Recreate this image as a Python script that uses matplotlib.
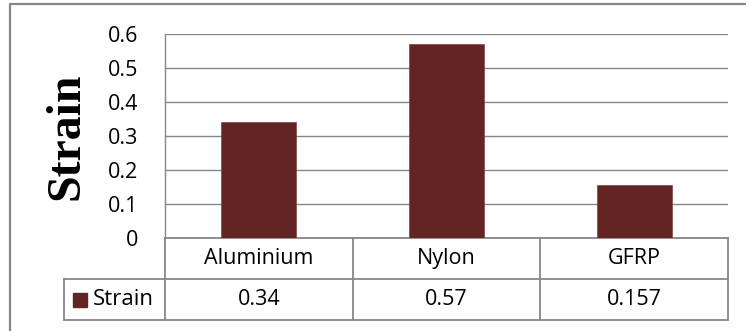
import matplotlib
matplotlib.use("Agg")
import matplotlib.pyplot as plt
from matplotlib.lines import Line2D
from matplotlib.transforms import blended_transform_factory

# Data
materials = ["Aluminium", "Nylon", "GFRP"]
strain = [0.34, 0.57, 0.157]
strain_labels = ["0.34", "0.57", "0.157"]
series_name = "Strain"
y_ticks = [0, 0.1, 0.2, 0.3, 0.4, 0.5, 0.6]
y_tick_labels = ["0", "0.1", "0.2", "0.3", "0.4", "0.5", "0.6"]

BAR = "#632424"
GRID = "#878787"
FONT = "Open Sans"
FS = 15.5
W, H = 746, 331

fig = plt.figure(figsize=(W / 100, H / 100), dpi=100)
fig.patch.set_facecolor("white")

# Outer chart frame (left and top edges)
fig.add_artist(Line2D([10 / W, 10 / W, 1.0], [0.0, 1 - 4 / H, 1 - 4 / H],
                      transform=fig.transFigure, color=GRID, lw=1.6))

left, right, top, bottom = 165, 728, 34, 238
ax = fig.add_axes([left / W, 1 - bottom / H, (right - left) / W, (bottom - top) / H])

x = list(range(len(materials)))
ax.bar(x, strain, width=0.4, color=BAR, edgecolor="#7a4545", linewidth=0.5, zorder=3)

ax.set_xlim(-0.5, len(materials) - 0.5)
ax.set_ylim(0, 0.6)
ax.set_yticks(y_ticks)
ax.set_yticklabels(y_tick_labels, fontfamily=FONT, fontsize=FS)
ax.set_xticks([])
ax.tick_params(axis="y", length=0, pad=19)
ax.yaxis.grid(True, color=GRID, lw=1.0, zorder=0)
for s in ["top", "right", "bottom"]:
    ax.spines[s].set_visible(False)
ax.spines["left"].set_color(GRID)
ax.spines["left"].set_linewidth(1.0)

ax.set_ylabel("Strain", fontfamily="Liberation Serif", fontweight="bold",
              fontsize=34.5, labelpad=0)
ax.yaxis.set_label_coords((88 - left) / (right - left), 0.5)

# Data table below the plot
trans = blended_transform_factory(ax.transData, ax.transAxes)
row_h = 41 / (bottom - top)
y0, y1, y2 = 0.0, -row_h, -2 * row_h
xl, xr = -0.5, len(materials) - 0.5
leg_left = (64 - left) / (right - left)
tl = dict(color=GRID, lw=1.3, clip_on=False)

for yy in (y0, y1, y2):
    ax.plot([xl, xr], [yy, yy], transform=trans, **tl)
for i in range(len(materials) + 1):
    xb = -0.5 + i
    ax.plot([xb, xb], [y0, y2], transform=trans, **tl)
ax.plot([leg_left, 0], [y1, y1], transform=ax.transAxes, **tl)
ax.plot([leg_left, 0], [y2, y2], transform=ax.transAxes, **tl)
ax.plot([leg_left, leg_left], [y1, y2], transform=ax.transAxes, **tl)

for i, (name, lab) in enumerate(zip(materials, strain_labels)):
    ax.text(i, (y0 + y1) / 2, name, transform=trans, ha="center", va="center",
            fontfamily=FONT, fontsize=FS)
    ax.text(i, (y1 + y2) / 2, lab, transform=trans, ha="center", va="center",
            fontfamily=FONT, fontsize=FS)

# Legend key in the table
key_x = (80 - left) / (right - left)
ax.plot([key_x], [(y1 + y2) / 2], marker="s", ms=10.5, color=BAR,
        transform=ax.transAxes, clip_on=False)
ax.text((93 - left) / (right - left), (y1 + y2) / 2, series_name,
        transform=ax.transAxes, ha="left", va="center",
        fontfamily=FONT, fontsize=FS + 0.5)

fig.savefig("out.png", dpi=100, facecolor="white")
